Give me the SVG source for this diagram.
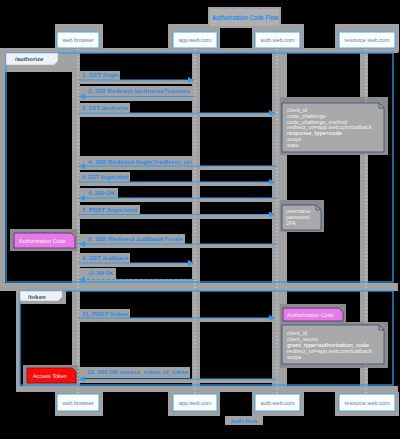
<svg xmlns="http://www.w3.org/2000/svg" width="400" height="439" viewBox="0 0 400 439">
<style>
.bg{fill:#000}
.sh{fill:#a2a2a2}
.shd{fill:#8c8c8c}
.pbox{fill:#fbfcf7;stroke:#46a6ee;stroke-width:1}
.ptxt{font-family:"Liberation Sans",Arial,sans-serif;font-size:5.5px;fill:#4f86b8;text-anchor:middle}
.life{stroke:#ececec;stroke-width:1;stroke-dasharray:1 2.5}
.frame{fill:none;stroke:#2f9bf0;stroke-width:1.3}
.tab{fill:#eef2f7;stroke:#9fb3c8;stroke-width:0.6}
.tabtxt{font-family:"Liberation Sans",Arial,sans-serif;font-size:6px;font-weight:bold;fill:#3a4d6e}
.msg{stroke:#2f9bf0;stroke-width:1.2;fill:none;marker-end:url(#ah)}
.dash{stroke-dasharray:3 2}
.lbl{font-family:"Liberation Sans",Arial,sans-serif;font-size:6px;font-weight:bold;fill:#1e8cf5}
.note{fill:#a9a9a9;stroke:#2d4f80;stroke-width:0.8}
.ntxt{font-family:"Liberation Sans",Arial,sans-serif;font-size:5.5px;fill:#f2f2f2}
.b{font-weight:bold}
.pink{fill:#e87ae6;stroke:#4a2a88;stroke-width:0.8}
.red{fill:#ff0a0a;stroke:#7a1010;stroke-width:0.8}
.title{font-family:"Liberation Sans",Arial,sans-serif;font-size:7.5px;font-weight:bold;fill:#1e8cf5}
</style>
<defs>
<marker id="ah" viewBox="0 0 6 6" refX="6" refY="3" markerWidth="6" markerHeight="6" orient="auto" markerUnits="userSpaceOnUse">
<path d="M0,0 L6,3 L0,6 Z" fill="#2f9bf0"/>
</marker>
</defs>
<rect class="bg" x="0" y="0" width="400" height="439"/>

<!-- gray backdrop areas -->
<g id="backdrop">
<rect class="sh" x="208" y="7" width="73" height="21"/>
<rect class="sh" x="55" y="24" width="48" height="28"/>
<rect class="sh" x="168" y="24" width="52" height="28"/>
<rect class="sh" x="252" y="24" width="52" height="28"/>
<rect class="sh" x="335" y="24" width="64" height="28"/>
<rect class="sh" x="0" y="48" width="398" height="5"/>
<rect class="sh" x="0" y="48" width="5" height="242"/>
<rect class="sh" x="5" y="53" width="67" height="19"/>
<rect class="sh" x="0" y="283" width="398" height="8"/>
<rect class="sh" x="16" y="290" width="4" height="102"/>
<rect class="sh" x="20" y="291" width="46" height="13"/>
<rect class="sh" x="16" y="386" width="382" height="6"/>
<rect class="sh" x="72" y="49" width="8" height="345"/>
<rect class="sh" x="192" y="49" width="8" height="345"/>
<rect class="sh" x="272" y="49" width="15" height="345"/>
<rect class="sh" x="360" y="49" width="8" height="345"/>
<rect class="sh" x="55" y="392" width="48" height="24"/>
<rect class="sh" x="168" y="392" width="52" height="24"/>
<rect class="sh" x="252" y="392" width="52" height="24"/>
<rect class="sh" x="335" y="392" width="64" height="24"/>
<rect class="sh" x="225" y="416" width="38" height="9"/>
<!-- message label / arrow backdrops -->
<rect class="sh" x="80" y="71" width="40" height="9"/><rect class="sh" x="80" y="80" width="112" height="4"/>
<rect class="sh" x="80" y="86" width="112" height="10"/><rect class="sh" x="80" y="97" width="112" height="4"/>
<rect class="sh" x="80" y="103" width="50" height="10"/><rect class="sh" x="80" y="113" width="192" height="4"/>
<rect class="sh" x="80" y="156" width="114" height="10"/><rect class="sh" x="80" y="166" width="192" height="4"/>
<rect class="sh" x="80" y="172" width="50" height="10"/><rect class="sh" x="80" y="182" width="192" height="4"/>
<rect class="sh" x="80" y="188" width="38" height="10"/><rect class="sh" x="80" y="198" width="192" height="4"/>
<rect class="sh" x="80" y="205" width="60" height="10"/><rect class="sh" x="80" y="215" width="192" height="4"/>
<rect class="sh" x="80" y="234" width="105" height="10"/><rect class="sh" x="80" y="244" width="192" height="4"/>
<rect class="sh" x="80" y="253" width="50" height="10"/><rect class="sh" x="80" y="263" width="112" height="4"/>
<rect class="sh" x="80" y="268" width="36" height="11"/><rect class="sh" x="80" y="279" width="112" height="4"/>
<rect class="sh" x="80" y="309" width="50" height="9"/><rect class="sh" x="80" y="318" width="192" height="4"/>
<rect class="sh" x="80" y="367" width="110" height="11"/><rect class="sh" x="80" y="379" width="192" height="4"/>
<!-- note shadows -->
<rect class="shd" x="280" y="97" width="108" height="58"/>
<rect class="shd" x="280" y="200" width="44" height="32"/>
<rect class="shd" x="10" y="229" width="68" height="22"/>
<rect class="shd" x="280" y="304" width="66" height="19"/>
<rect class="shd" x="280" y="322" width="108" height="46"/>
<rect class="shd" x="23" y="365" width="56" height="21"/>
</g>

<g id="title">
<rect x="210" y="9" width="69" height="17" fill="#b0b0b0"/>
<text class="title" x="212" y="20" textLength="66" lengthAdjust="spacingAndGlyphs">Authorization Code Flow</text>
</g>

<g id="lifelines">
<line class="life" x1="78" y1="49" x2="78" y2="394"/>
<line class="life" x1="195" y1="49" x2="195" y2="394"/>
<line class="life" x1="277" y1="49" x2="277" y2="394"/>
<line class="life" x1="366" y1="49" x2="366" y2="394"/>
</g>

<g id="participant-browser">
<rect class="pbox" x="57" y="32" width="42" height="16"/>
<text class="ptxt" x="78" y="42">web browser</text>
<rect class="pbox" x="57" y="394" width="42" height="17"/>
<text class="ptxt" x="78" y="404.5">web browser</text>
</g>
<g id="participant-app">
<rect class="pbox" x="173" y="32" width="44" height="16"/>
<text class="ptxt" x="195" y="42">app.web.com</text>
<rect class="pbox" x="173" y="394" width="44" height="17"/>
<text class="ptxt" x="195" y="404.5">app.web.com</text>
</g>
<g id="participant-auth">
<rect class="pbox" x="255" y="32" width="45" height="16"/>
<text class="ptxt" x="277.5" y="42">auth.web.com</text>
<rect class="pbox" x="255" y="394" width="45" height="17"/>
<text class="ptxt" x="277.5" y="404.5">auth.web.com</text>
</g>
<g id="participant-resource">
<rect class="pbox" x="339" y="32" width="56" height="16"/>
<text class="ptxt" x="367" y="42">resource.web.com</text>
<rect class="pbox" x="339" y="394" width="56" height="17"/>
<text class="ptxt" x="367" y="404.5">resource.web.com</text>
</g>

<g id="group-authorize">
<rect class="frame" x="6" y="53" width="387" height="229"/>
<path class="tab" d="M6,53 H58 V61 L54,65 H6 Z"/>
<text class="tabtxt" x="15" y="61">/authorize</text>
</g>
<g id="group-token">
<rect class="frame" x="20" y="291" width="373" height="94"/>
<path class="tab" d="M20,291 H62 V297 L58,301 H20 Z"/>
<text class="tabtxt" x="28" y="298.5">/token</text>
</g>

<g id="connectors">
<line class="msg" x1="78" y1="80" x2="194" y2="80"/>
<text class="lbl" x="82" y="77" textLength="37" lengthAdjust="spacingAndGlyphs">1. GET /login</text>
<line class="msg" x1="195" y1="96.5" x2="79" y2="96.5"/>
<text class="lbl" x="88" y="93" textLength="102" lengthAdjust="spacingAndGlyphs">2. 302 Redirect /authorize?params</text>
<line class="msg" x1="78" y1="113" x2="275" y2="113"/>
<text class="lbl" x="82" y="109.5" textLength="46" lengthAdjust="spacingAndGlyphs">3. GET /authorize</text>
<line class="msg" x1="277" y1="166" x2="79" y2="166"/>
<text class="lbl" x="88" y="163.5" textLength="104" lengthAdjust="spacingAndGlyphs">4. 302 Redirect /login?redirect_uri</text>
<line class="msg" x1="78" y1="182" x2="275" y2="182"/>
<text class="lbl" x="82" y="178.5" textLength="46" lengthAdjust="spacingAndGlyphs">5. GET /login.html</text>
<line class="msg" x1="277" y1="198" x2="79" y2="198"/>
<text class="lbl" x="88" y="195" textLength="27" lengthAdjust="spacingAndGlyphs">6. 200 OK</text>
<line class="msg" x1="78" y1="214.5" x2="275" y2="214.5"/>
<text class="lbl" x="82" y="211.5" textLength="55" lengthAdjust="spacingAndGlyphs">7. POST /login.html</text>
<line class="msg" x1="277" y1="244" x2="79" y2="244"/>
<text class="lbl" x="88" y="240.5" textLength="95" lengthAdjust="spacingAndGlyphs">8. 302 Redirect /callback?code</text>
<line class="msg" x1="78" y1="263" x2="194" y2="263"/>
<text class="lbl" x="82" y="259.5" textLength="46" lengthAdjust="spacingAndGlyphs">9. GET /callback</text>
<line class="msg dash" x1="195" y1="279.5" x2="79" y2="279.5"/>
<text class="lbl" x="88" y="274.5" textLength="25" lengthAdjust="spacingAndGlyphs">10. 200 OK</text>
<line class="msg" x1="78" y1="318" x2="275" y2="318"/>
<text class="lbl" x="82" y="315.5" textLength="46" lengthAdjust="spacingAndGlyphs">11. POST /token</text>
<line class="msg" x1="277" y1="379" x2="79" y2="379"/>
<text class="lbl" x="87" y="374" textLength="101" lengthAdjust="spacingAndGlyphs">12. 200 OK access_token, id_token</text>
</g>

<g id="note-authorize-params">
<path class="note" d="M282,103 H379 L384,108 V152 H282 Z"/>
<path d="M379,103 V108 H384" fill="none" stroke="#2d4f80" stroke-width="0.8"/>
<text class="ntxt" x="287" y="112">client_id</text>
<text class="ntxt" x="287" y="117.8">code_challenge</text>
<text class="ntxt" x="287" y="123.6">code_challenge_method</text>
<text class="ntxt" x="287" y="129.4">redirect_uri=app.web.com/callback</text>
<text class="ntxt b" x="287" y="135.2">response_type=code</text>
<text class="ntxt" x="287" y="141">scope</text>
<text class="ntxt" x="287" y="146.8">state</text>
</g>
<g id="note-credentials">
<path class="note" d="M282,205 H316 L321,210 V230 H282 Z"/>
<path d="M316,205 V210 H321" fill="none" stroke="#2d4f80" stroke-width="0.8"/>
<text class="ntxt" x="286" y="212.7">username</text>
<text class="ntxt" x="286" y="218.7">password</text>
<text class="ntxt" x="286" y="224.7">2FA</text>
</g>
<g id="note-authcode-browser">
<path class="pink" d="M14,233 H71 L75,237 V248 H14 Z"/>
<text class="ntxt" x="19" y="243">Authorization Code</text>
</g>
<g id="note-authcode-auth">
<path class="pink" d="M283,308 H339 L343,312 V321 H283 Z"/>
<text class="ntxt" x="287" y="316.5">Authorization Code</text>
</g>
<g id="note-token-params">
<path class="note" d="M282,325 H379 L384,330 V364 H282 Z"/>
<path d="M379,325 V330 H384" fill="none" stroke="#2d4f80" stroke-width="0.8"/>
<text class="ntxt" x="287" y="335">client_id</text>
<text class="ntxt" x="287" y="340.8">client_secret</text>
<text class="ntxt b" x="287" y="347">grant_type=authorization_code</text>
<text class="ntxt" x="287" y="353">redirect_uri=app.web.com/callback</text>
<text class="ntxt" x="287" y="358.8">scope</text>
</g>
<g id="note-access-token">
<path class="red" d="M27,368 H72 L76,372 V383 H27 Z"/>
<text class="ntxt" x="33" y="377.5" fill="#ffffff">Access Token</text>
</g>

<g id="footer">
<text class="lbl" x="244" y="422.5" text-anchor="middle" font-size="5.5">auth flow</text>
</g>
</svg>
